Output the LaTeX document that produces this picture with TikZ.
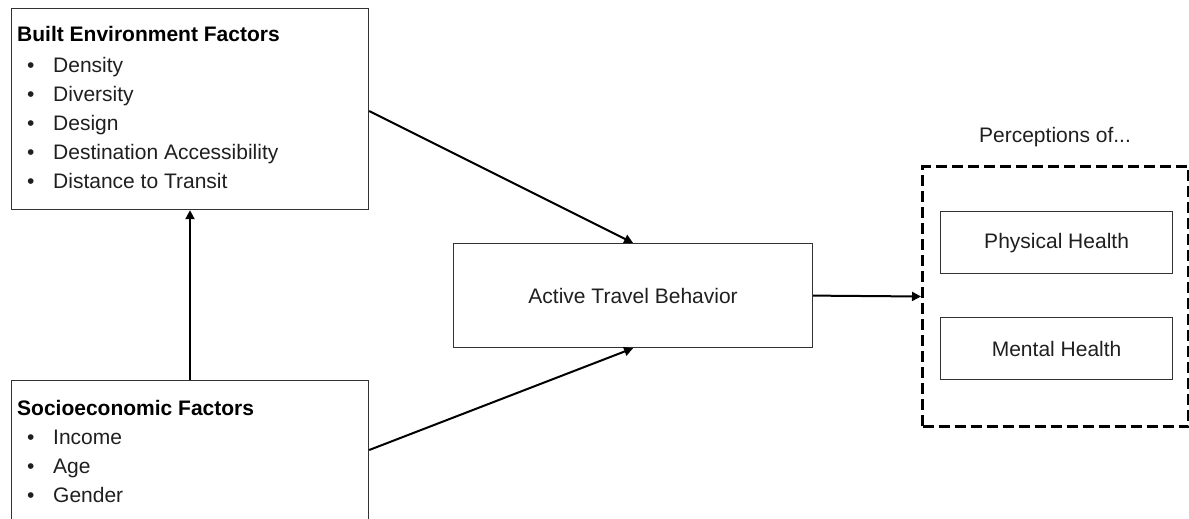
\documentclass[tikz,border=0pt]{standalone}
\usepackage{fontspec}
\setmainfont{Liberation Sans}
\usetikzlibrary{arrows.meta,calc}
\begin{document}
\begin{tikzpicture}[x=1pt,y=-1pt,
 box/.style={draw=black!80, line width=1.2pt, inner sep=0pt, anchor=north west},
 dbox/.style={draw=black, line width=3pt, dash pattern=on 11pt off 5pt, inner sep=0pt, anchor=north west},
 conn/.style={draw=black, line width=2pt, -{Triangle[length=9pt,width=9pt]}},
 txt/.style={font=\fontsize{21}{25}\selectfont, text=black!88, inner sep=0pt, anchor=base west},
 ttl/.style={txt, font=\fontsize{21}{25}\selectfont\bfseries, text=black},
 ctxt/.style={font=\fontsize{21}{25}\selectfont, text=black!88, inner sep=0pt},
]
\useasboundingbox (0,0) rectangle (1189,519);
\clip (0,0) rectangle (1189,519);

% boxes
\node[box, minimum width=357pt, minimum height=201pt] (be) at (11,8) {};
\node[box, minimum width=357pt, minimum height=200pt] (se) at (11,380) {};
\node[box, minimum width=359pt, minimum height=104pt] (ab) at (453,243) {};
\node[dbox, minimum width=266pt, minimum height=260pt] (pc) at (921,165) {};
\node[box, minimum width=232pt, minimum height=62pt] (ph) at (940,211) {};
\node[box, minimum width=232pt, minimum height=62pt] (mh) at (940,317) {};

% built environment text
\node[ttl] (bet) at (17,41.7) {Built Environment Factors};
\foreach \i/\t [count=\k] in {72.5/Density,101.5/Diversity,130.3/Design,159.3/Destination Accessibility,188.3/Distance to Transit}{
  \node[txt] (beb\k) at (27,\i) {•};
  \node[txt] (bei\k) at (53,\i) {\t};
}

% socioeconomic text
\node[ttl] (set) at (17,415) {Socioeconomic Factors};
\foreach \i/\t [count=\k] in {444/Income,473/Age,502/Gender}{
  \node[txt] (seb\k) at (27,\i) {•};
  \node[txt] (sei\k) at (53,\i) {\t};
}

\node[ctxt] (abt) at (ab.center) {Active Travel Behavior};
\node[ctxt] (pht) at (ph.center) {Physical Health};
\node[ctxt] (mht) at (mh.center) {Mental Health};
\node[ctxt] (pct) at (1055,137) {Perceptions of...};

% connectors
\draw[conn] ($(se.north west)+(179,0)$) -- ($(be.south west)+(179,0)$);
\draw[conn] ($(be.north east)+(0,103)$) -- (ab.north);
\draw[conn] ($(se.north east)+(0,70)$) -- (ab.south);
\draw[conn] (ab.east) -- (pc.west);
\end{tikzpicture}
\end{document}
